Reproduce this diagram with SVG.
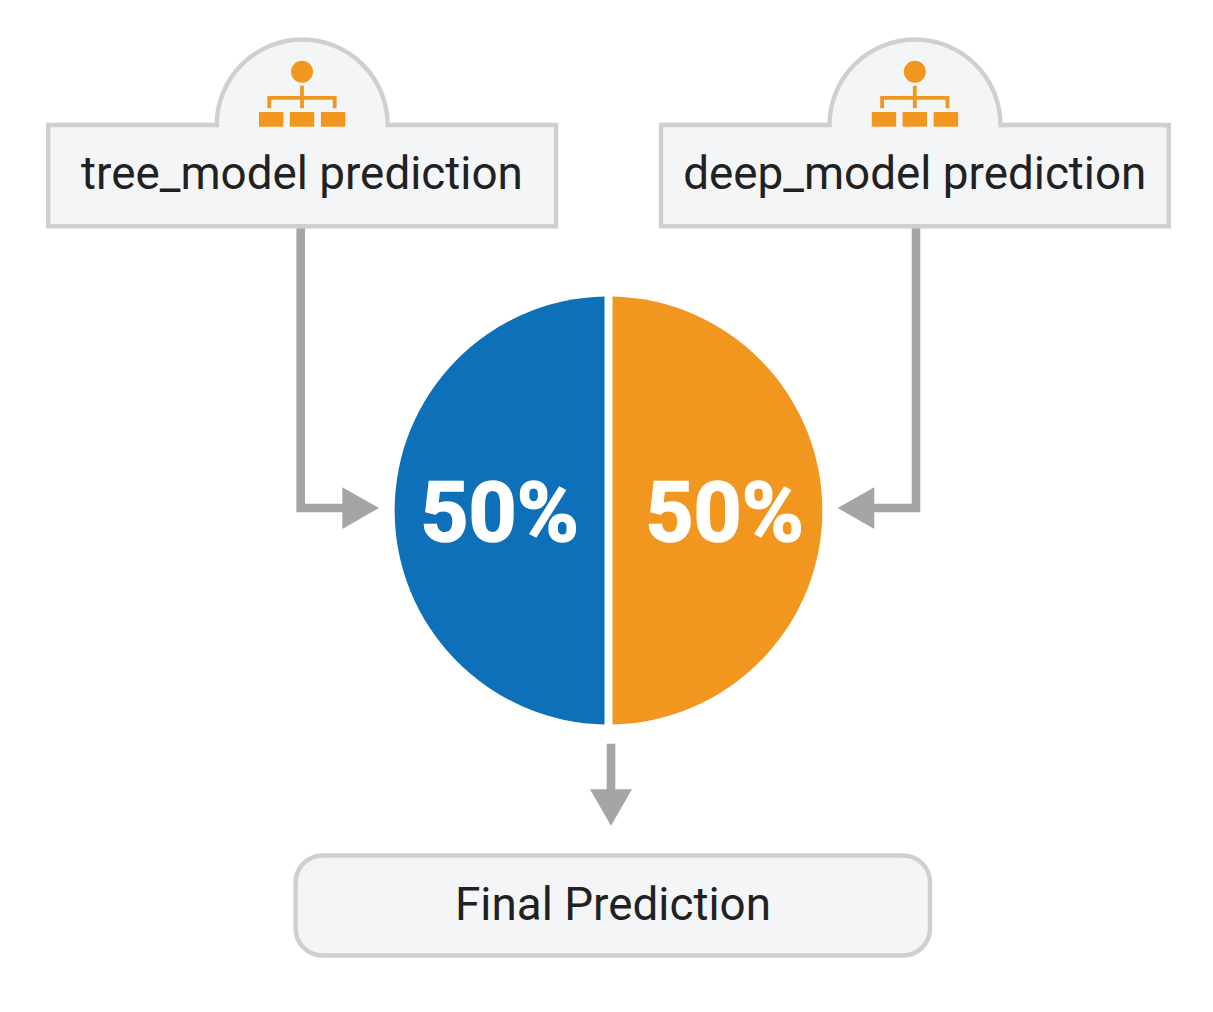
<svg xmlns="http://www.w3.org/2000/svg" width="1213" height="1012" viewBox="0 0 1213 1012">
<style>
.box{fill:#f4f5f7;stroke:#cfcfcf;stroke-width:4.4}
.t{font-family:Roboto,"Liberation Sans",sans-serif;font-size:45.8px;fill:#212121;text-anchor:middle}
.p{font-family:Roboto,"Liberation Sans",sans-serif;font-size:84px;font-weight:700;fill:#fff;stroke:#fff;stroke-width:1.6;text-anchor:middle}
.ic{fill:#f19720}
.ln{fill:none;stroke:#f19720;stroke-width:3.8}
.c{fill:none;stroke:#a5a5a5;stroke-width:8.6}
.h{fill:#a5a5a5}
</style>
<defs>
<g id="icon">
<circle class="ic" cx="0" cy="-53.3" r="11"/>
<path class="ln" d="M0-39.3V-16.7M-32.700-16.700V-27.200H32.700V-16.700"/>
<rect class="ic" x="-43" y="-13" width="24.4" height="14.7"/>
<rect class="ic" x="-12.2" y="-13" width="24.4" height="14.7"/>
<rect class="ic" x="18.9" y="-13" width="24.4" height="14.7"/>
</g>
</defs>
<g id="connectors">
<path class="c" d="M300.700 228V508H345"/>
<path class="h" d="M342.300 487.300L379 508L342.300 529Z"/>
<path class="c" d="M916 228V508H872"/>
<path class="h" d="M874.300 487.300L837.600 508L874.300 529Z"/>
<path class="c" d="M611 743.700V792"/>
<path class="h" d="M590 789.300H632L611 825.700Z"/>
</g>
<g id="tree-model">
<path class="box" d="M48.200 125H216.700A85.500 85.500 0 0 1 387.700 125H556V226.300H48.200Z"/>
<use href="#icon" x="302" y="125"/>
<text class="t" x="302" y="188.500">tree_model prediction</text>
</g>
<g id="deep-model">
<path class="box" d="M661 125H829.500A85.500 85.500 0 0 1 1000.500 125H1168.800V226.300H661Z"/>
<use href="#icon" x="914.800" y="125"/>
<text class="t" x="914.800" y="188.500">deep_model prediction</text>
</g>
<g id="pie">
<path fill="#0d70b8" d="M604.500 296.540A214 214 0 0 0 604.500 724.460Z"/>
<path fill="#f19720" d="M612.500 296.540A214 214 0 0 1 612.500 724.460Z"/>
<text class="p" x="499.500" y="541">50%</text>
<text class="p" x="724.500" y="541">50%</text>
</g>
<g id="final">
<rect class="box" x="295.600" y="855.500" width="634.400" height="100" rx="27"/>
<text class="t" x="613" y="920">Final Prediction</text>
</g>
</svg>
